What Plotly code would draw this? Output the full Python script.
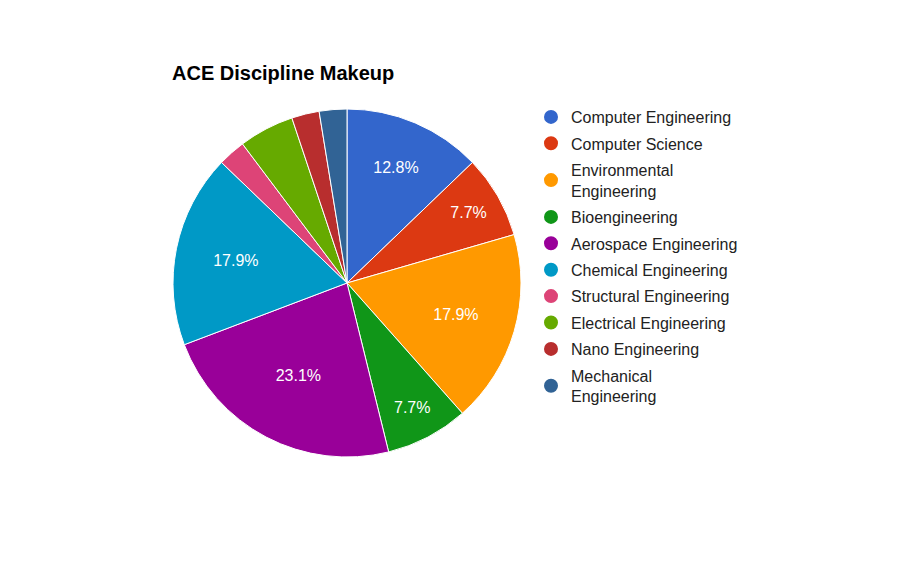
import plotly.graph_objects as go

categories = ["Computer Engineering", "Computer Science", "Environmental Engineering",
              "Bioengineering", "Aerospace Engineering", "Chemical Engineering",
              "Structural Engineering", "Electrical Engineering", "Nano Engineering",
              "Mechanical Engineering"]
legend_labels = ["Computer Engineering", "Computer Science", "Environmental<br>Engineering",
                 "Bioengineering", "Aerospace Engineering", "Chemical Engineering",
                 "Structural Engineering", "Electrical Engineering", "Nano Engineering",
                 "Mechanical<br>Engineering"]
counts = [5, 3, 7, 3, 9, 7, 1, 2, 1, 1]
colors = ["#3366cc", "#dc3912", "#ff9900", "#109618", "#990099", "#0099c6",
          "#dd4477", "#66aa00", "#b82e2e", "#316395"]

total = sum(counts)
texts = [f"{c/total*100:.1f}%" if c >= 3 else "" for c in counts]

FONT = "Arial, Liberation Sans, sans-serif"
OFF = 8  # page body margin offset
W, H = 910, 564

def px(x):
    return (x - OFF) / W

def py(y):
    return 1 - (y - OFF) / H

fig = go.Figure()
fig.add_trace(go.Pie(
    labels=categories, values=counts, sort=False, direction="clockwise", rotation=0,
    marker=dict(colors=colors, line=dict(color="white", width=1)),
    text=texts, textinfo="text", textposition="inside", insidetextorientation="horizontal",
    textfont=dict(color="white", size=16, family=FONT),
    showlegend=False, hoverinfo="label+percent",
    domain=dict(x=[px(173), px(521)], y=[py(457), py(109)]),
))
for i, (lab, col) in enumerate(zip(legend_labels, colors)):
    fig.add_trace(go.Scatter(
        x=[None], y=[None], mode="markers", name=lab, legendgroup=f"g{i}",
        marker=dict(color=col, size=16, symbol="circle", line=dict(color=col, width=3)),
        showlegend=True,
    ))

fig.update_layout(
    width=W, height=H, margin=dict(l=0, r=0, t=0, b=0),
    paper_bgcolor="white", plot_bgcolor="white",
    font=dict(family=FONT, color="#222222"),
    xaxis=dict(visible=False), yaxis=dict(visible=False),
    title=dict(text="<b>ACE Discipline Makeup</b>", x=px(172), xanchor="left",
               y=py(73), yanchor="middle", font=dict(size=20, color="#000000", family=FONT)),
    legend=dict(x=px(531), xanchor="left", y=py(100), yanchor="top",
                font=dict(size=16, color="#222222", family=FONT),
                tracegroupgap=2.6, itemsizing="constant", bgcolor="rgba(0,0,0,0)"),
)
fig.write_html("out.html")
